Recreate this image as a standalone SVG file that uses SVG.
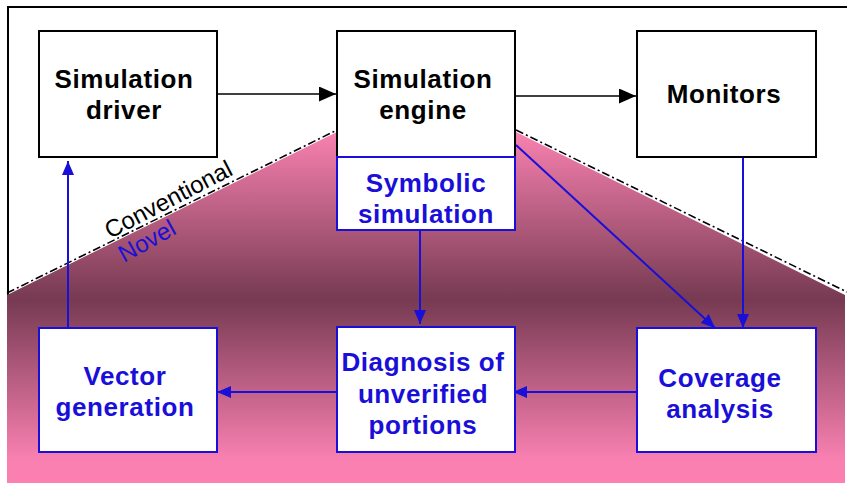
<svg xmlns="http://www.w3.org/2000/svg" width="847" height="483" viewBox="0 0 847 483">
<style>
.bk{fill:#fff;stroke:#000;stroke-width:2}
.bl{fill:#fff;stroke:#1a0fd9;stroke-width:2}
.tk{font-family:"Liberation Sans",Arial,sans-serif;font-weight:bold;font-size:26px;letter-spacing:0.6px;fill:#000;text-anchor:middle}
.tb{font-family:"Liberation Sans",Arial,sans-serif;font-weight:bold;font-size:26px;letter-spacing:0.6px;fill:#1a0fd9;text-anchor:middle}
.ck{stroke:#000;stroke-width:1.6;fill:none}
.cb{stroke:#1a0fd9;stroke-width:2;fill:none}
.dash{stroke:#000;stroke-width:1.6;fill:none;stroke-dasharray:8 3 2 3}
</style>
<defs>
<linearGradient id="g" x1="0" y1="130" x2="0" y2="483" gradientUnits="userSpaceOnUse">
<stop offset="0" stop-color="#fa82b1"/>
<stop offset="0.48" stop-color="#763a52"/>
<stop offset="0.93" stop-color="#f880b0"/>
<stop offset="1" stop-color="#fc80b1"/>
</linearGradient>
<marker id="ak" viewBox="0 0 17 15" refX="17" refY="7.5" markerWidth="17" markerHeight="15" markerUnits="userSpaceOnUse" orient="auto">
<path d="M0,0 L17,7.5 L0,15 z" fill="#000"/>
</marker>
<marker id="ab" viewBox="0 0 14 12" refX="14" refY="6" markerWidth="14" markerHeight="12" markerUnits="userSpaceOnUse" orient="auto">
<path d="M0,0 L14,6 L0,12 z" fill="#1a0fd9"/>
</marker>
</defs>
<rect x="0" y="0" width="847" height="483" fill="#fff"/>
<rect x="8" y="7" width="860" height="500" fill="none" stroke="#000" stroke-width="2"/>
<g id="novel-region">
<polygon points="7,295 337,132 516,132 845,295 845,483 7,483" fill="url(#g)"/>
<polyline class="dash" points="7,293 337,130"/>
<polyline class="dash" points="516,130 847,292"/>
<text x="0" y="0" transform="translate(110,239) rotate(-27.5)" font-family="'Liberation Sans',Arial,sans-serif" font-size="24" fill="#000">Conventional</text>
<text x="0" y="0" transform="translate(124,263) rotate(-29)" font-family="'Liberation Sans',Arial,sans-serif" font-size="24" fill="#1a0fd9">Novel</text>
</g>
<g id="connectors">
<line class="ck" x1="217" y1="94" x2="336" y2="94" marker-end="url(#ak)"/>
<line class="ck" x1="516" y1="96" x2="636" y2="96" marker-end="url(#ak)"/>
<line class="cb" x1="516" y1="145" x2="715" y2="328" marker-end="url(#ab)"/>
<line class="cb" x1="743" y1="157" x2="743" y2="328" marker-end="url(#ab)"/>
<line class="cb" x1="420" y1="230" x2="420" y2="324" marker-end="url(#ab)"/>
<line class="cb" x1="637" y1="392" x2="513" y2="392" marker-end="url(#ab)"/>
<line class="cb" x1="337" y1="392" x2="217" y2="392" marker-end="url(#ab)"/>
<line class="cb" x1="68" y1="328" x2="68" y2="161" marker-end="url(#ab)"/>
</g>
<g id="sim-driver">
<rect class="bk" x="39" y="31" width="178" height="126"/>
<text class="tk" x="124" y="88">Simulation</text>
<text class="tk" x="124" y="119">driver</text>
</g>
<g id="sim-engine">
<rect class="bk" x="337" y="31" width="178" height="126"/>
<text class="tk" x="423" y="88">Simulation</text>
<text class="tk" x="423" y="119">engine</text>
</g>
<g id="monitors">
<rect class="bk" x="637" y="31" width="179" height="126"/>
<text class="tk" x="724" y="103">Monitors</text>
</g>
<g id="symbolic">
<rect class="bl" x="337" y="157" width="178" height="73"/>
<text class="tb" x="426" y="192">Symbolic</text>
<text class="tb" x="426" y="223">simulation</text>
</g>
<g id="vector-gen">
<rect class="bl" x="39" y="328" width="178" height="124"/>
<text class="tb" x="125" y="385">Vector</text>
<text class="tb" x="125" y="416">generation</text>
</g>
<g id="diagnosis">
<rect class="bl" x="337" y="327" width="178" height="125"/>
<text class="tb" x="423" y="371">Diagnosis of</text>
<text class="tb" x="423" y="403">unverified</text>
<text class="tb" x="423" y="434">portions</text>
</g>
<g id="coverage">
<rect class="bl" x="637" y="328" width="179" height="124"/>
<text class="tb" x="720" y="387">Coverage</text>
<text class="tb" x="720" y="418">analysis</text>
</g>
</svg>
